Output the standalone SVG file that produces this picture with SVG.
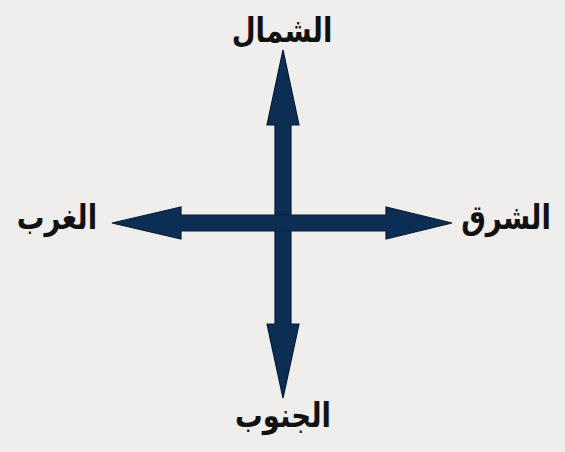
<svg xmlns="http://www.w3.org/2000/svg" width="565" height="452" viewBox="0 0 565 452">
<style>
.arrow{fill:#0c2e54;stroke:#0a1c33;stroke-width:1.2;stroke-linejoin:miter}
.lbl{font-family:"DejaVu Sans",sans-serif;font-weight:bold;font-size:30px;fill:#111;text-anchor:middle}
</style>
<rect width="565" height="452" fill="#efeeec"/>
<g id="connectors">
<polygon class="arrow" points="275,324 275,125 267,125 283,50 299,125 291,125 291,324 299,324 283,398 267,324"/>
<polygon class="arrow" points="181,215 386,215 386,207 452,223 386,239 386,231 181,231 181,239 112,223 181,207"/>
<rect x="275.6" y="215.6" width="14.8" height="14.8" fill="#0c2e54"/>
</g>
<g id="north"><text class="lbl" transform="translate(282,42) scale(0.92,1.12)" direction="rtl">الشمال</text></g>
<g id="south"><text class="lbl" transform="translate(283,427) scale(0.92,1.12)" direction="rtl">الجنوب</text></g>
<g id="east"><text class="lbl" transform="translate(506,229) scale(0.92,1.12)" direction="rtl">الشرق</text></g>
<g id="west"><text class="lbl" transform="translate(57,229) scale(0.92,1.12)" direction="rtl">الغرب</text></g>
</svg>
